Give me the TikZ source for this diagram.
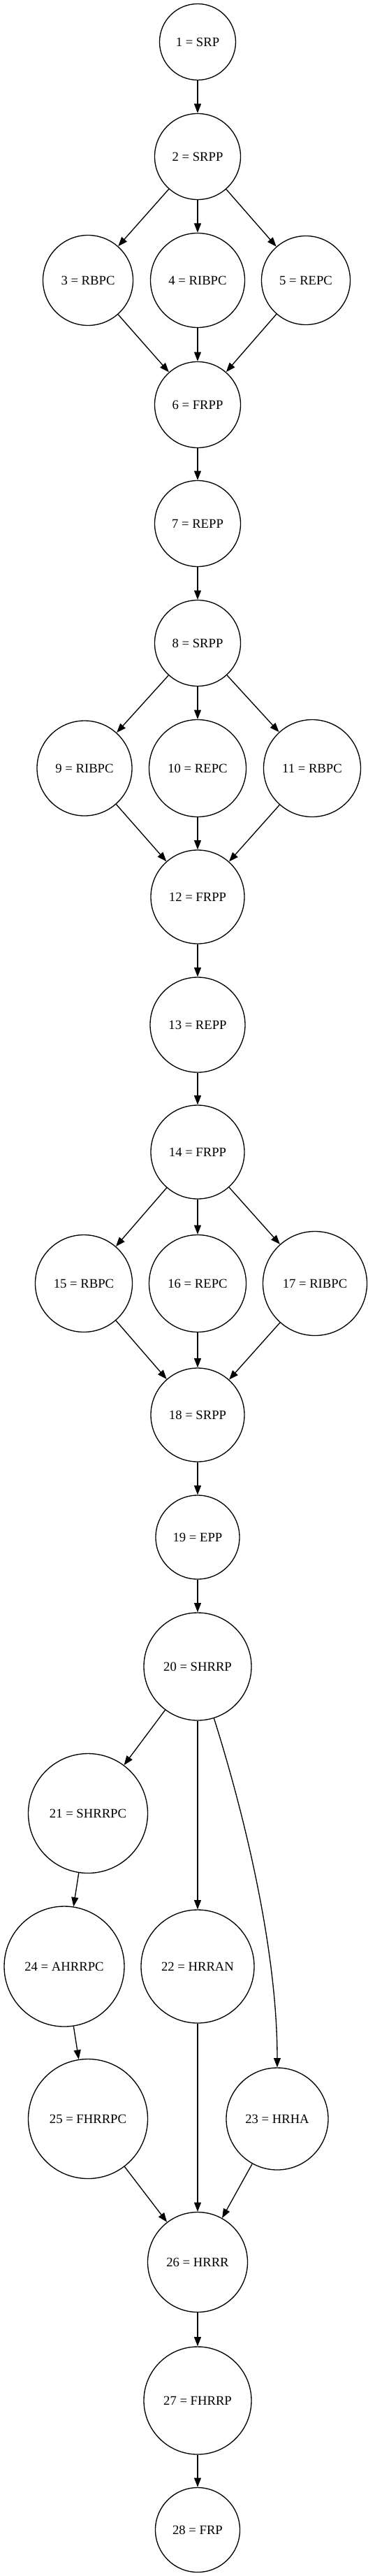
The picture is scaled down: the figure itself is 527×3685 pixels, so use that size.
\documentclass[tikz,border=0pt]{standalone}
\usepackage{fontspec}
\setmainfont{Liberation Serif}
\usetikzlibrary{arrows.meta}

\begin{document}
\begin{tikzpicture}[->,>={Triangle[length=10pt,width=7.5pt]},line width=1pt,
    x=0.75pt,y=-0.75pt,
    phase/.style={circle,draw,inner sep=0pt,minimum size=#1*0.75pt,
      font=\fontsize{14pt}{16pt}\selectfont}]
    \useasboundingbox (0,0) rectangle (527,3685);
    \node[phase=109](n1) at (283,60) {1 = SRP};
    \node[phase=123](n2) at (283,224) {2 = SRPP};
    \node[phase=129](n3) at (126,401) {3 = RBPC};
    \node[phase=135](n4) at (283,401) {4 = RIBPC};
    \node[phase=127](n5) at (438,401) {5 = REPC};
    \node[phase=123](n6) at (283,579) {6 = FRPP};
    \node[phase=123](n7) at (283,749) {7 = REPP};
    \node[phase=123](n8) at (283,920) {8 = SRPP};
    \node[phase=136](n9) at (121,1099) {9 = RIBPC};
    \node[phase=139](n10) at (283,1099) {10 = REPC};
    \node[phase=139](n11) at (447,1099) {11 = RBPC};
    \node[phase=134](n12) at (283,1283) {12 = FRPP};
    \node[phase=136](n13) at (283,1466) {13 = REPP};
    \node[phase=134](n14) at (283,1648) {14 = FRPP};
    \node[phase=139](n15) at (120,1836) {15 = RBPC};
    \node[phase=139](n16) at (283,1836) {16 = REPC};
    \node[phase=149](n17) at (451,1836) {17 = RIBPC};
    \node[phase=134](n18) at (283,2024) {18 = SRPP};
    \node[phase=120](n19) at (283,2199) {19 = EPP};
    \node[phase=154](n20) at (283,2384) {20 = SHRRP};
    \node[phase=171](n21) at (126,2594) {21 = SHRRPC};
    \node[phase=162](n22) at (283,2813) {22 = HRRAN};
    \node[phase=146](n23) at (397,3031) {23 = HRHA};
    \node[phase=172](n24) at (92,2813) {24 = AHRRPC};
    \node[phase=171](n25) at (126,3031) {25 = FHRRPC};
    \node[phase=143](n26) at (283,3236) {26 = HRRR};
    \node[phase=154](n27) at (283,3434) {27 = FHRRP};
    \node[phase=121](n28) at (283,3619) {28 = FRP};
    \draw (n1) -- (n2);
    \draw (n2) -- (n3);
    \draw (n2) -- (n4);
    \draw (n2) -- (n5);
    \draw (n3) -- (n6);
    \draw (n4) -- (n6);
    \draw (n5) -- (n6);
    \draw (n6) -- (n7);
    \draw (n7) -- (n8);
    \draw (n8) -- (n9);
    \draw (n8) -- (n10);
    \draw (n8) -- (n11);
    \draw (n9) -- (n12);
    \draw (n10) -- (n12);
    \draw (n11) -- (n12);
    \draw (n12) -- (n13);
    \draw (n13) -- (n14);
    \draw (n14) -- (n15);
    \draw (n14) -- (n16);
    \draw (n14) -- (n17);
    \draw (n15) -- (n18);
    \draw (n16) -- (n18);
    \draw (n17) -- (n18);
    \draw (n18) -- (n19);
    \draw (n19) -- (n20);
    \draw (n20) -- (n21);
    \draw (n20) -- (n22);
    \draw (n20) .. controls (345,2580) and (397,2780) .. (n23);
    \draw (n21) -- (n24);
    \draw (n24) -- (n25);
    \draw (n25) -- (n26);
    \draw (n22) -- (n26);
    \draw (n23) -- (n26);
    \draw (n26) -- (n27);
    \draw (n27) -- (n28);
\end{tikzpicture}
\end{document}
